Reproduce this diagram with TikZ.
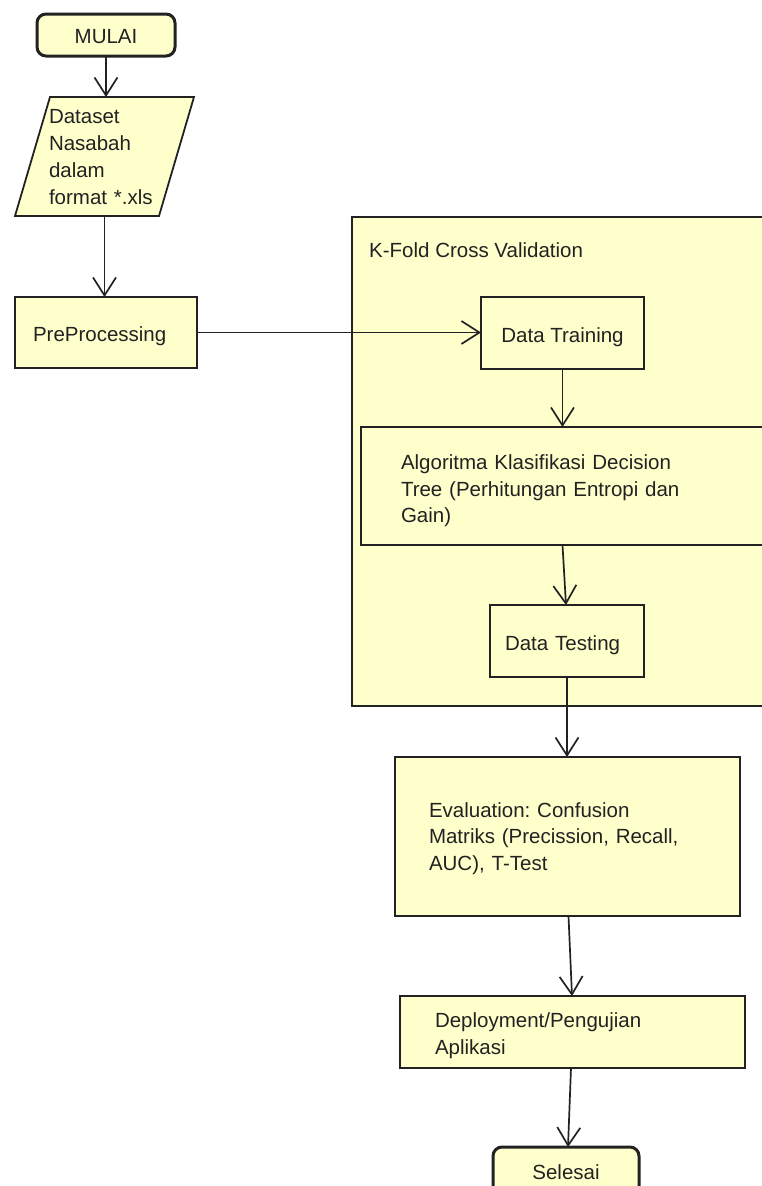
\documentclass[tikz,border=0pt]{standalone}
\usepackage{fontspec}
\setmainfont{Liberation Sans}
\usetikzlibrary{arrows.meta,backgrounds}
\frenchspacing

\definecolor{boxfill}{HTML}{FFFFCC}
\definecolor{ink}{HTML}{222222}

% lines of text, set lower by #1 without changing the box size
\newcommand\lowtext[2]{\raisebox{-#1}[\height][\depth]{\begin{tabular}{@{}l@{}}#2\end{tabular}}}

\tikzset{
  every node/.style={font=\fontsize{20.5}{26.5}\selectfont, text=ink},
  procbox/.style={draw=ink, fill=boxfill, line width=1.8pt, rectangle,
    anchor=north west, inner ysep=0pt, outer sep=0pt},
  termbox/.style={procbox, line width=3pt, rounded corners=9pt},
  leftbox/.style 2 args={procbox, minimum width=#1, inner xsep=#2,
    text width=#1-2*#2, align=left},
  flow/.style={draw=ink, line width=1.7pt,
    -{Straight Barb[length=18pt,width=23pt]}}
}

\begin{document}
\begin{tikzpicture}[x=1pt,y=-1pt]
\useasboundingbox (0,0) rectangle (762,1186);

% K-fold container
\node[procbox, minimum width=450pt, minimum height=489pt] (kfold) at (352,217) {};
\node[anchor=west, inner sep=0pt] (kfoldlabel) at (369,250) {K-Fold Cross Validation};

% start terminal
\node[termbox, minimum width=138pt, minimum height=42pt] (mulai) at (37,14) {\lowtext{3pt}{MULAI}};

% input data (parallelogram)
\node[minimum width=179pt, minimum height=119pt, text width=111pt, align=left,
      inner sep=0pt, outer sep=0pt] (ds) at (104.5,156.5)
  {\lowtext{2.5pt}{Dataset\\[0.5pt]Nasabah\\[0.5pt]dalam\\[0.5pt]format *.xls}};
\begin{scope}[on background layer]
  \draw[draw=ink, fill=boxfill, line width=1.8pt]
    ([xshift=35pt]ds.north west) -- (ds.north east)
    -- ([xshift=-35pt]ds.south east) -- (ds.south west) -- cycle;
\end{scope}

% process steps
\node[leftbox={182pt}{18pt}, minimum height=71pt] (pre) at (15,297) {\lowtext{4pt}{PreProcessing}};
\node[procbox, minimum width=163pt, minimum height=72pt] (train) at (481,297) {\lowtext{4pt}{Data Training}};
\node[leftbox={440pt}{40pt}, minimum height=118pt] (alg) at (361,427)
  {\lowtext{5pt}{Algoritma Klasifikasi Decision\\Tree (Perhitungan Entropi dan\\Gain)}};
\node[leftbox={154pt}{15pt}, minimum height=72pt] (test) at (490,605) {\lowtext{4pt}{Data Testing}};
\node[leftbox={345pt}{34pt}, minimum height=159pt] (eval) at (395,757)
  {\lowtext{2pt}{Evaluation: Confusion\\Matriks (Precission, Recall,\\AUC), T-Test}};
\node[leftbox={345pt}{35pt}, minimum height=72pt] (dep) at (400,996)
  {\lowtext{3.5pt}{Deployment/Pengujian\\Aplikasi}};

% end terminal
\node[termbox, minimum width=146pt, minimum height=48pt] (selesai) at (493,1147) {\lowtext{3pt}{Selesai}};

% connectors
\draw[flow] (mulai.south) -- (mulai.south |- ds.north);
\draw[flow] (ds.south) -- (ds.south |- pre.north);
\draw[flow] (pre.east) -- (pre.east -| train.west);
\draw[flow] (train.south) -- (train.south |- alg.north);
\draw[flow] (train.south |- alg.south) -- ([xshift=-1pt]test.north);
\draw[flow] (test.south) -- (test.south |- eval.north);
\draw[flow] ([xshift=1pt]eval.south) -- ([xshift=-0.5pt]dep.north);
\draw[flow] ([xshift=-1.5pt]dep.south) -- ([xshift=2pt]selesai.north);
\end{tikzpicture}
\end{document}
